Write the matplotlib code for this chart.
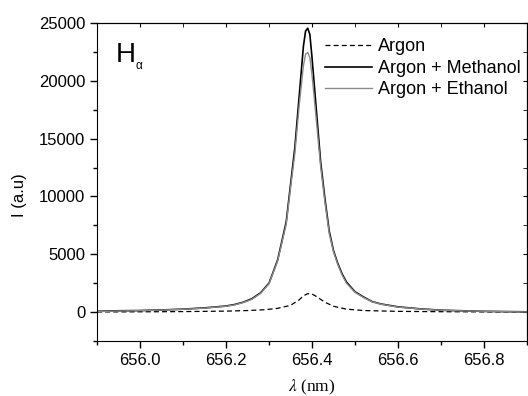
import matplotlib
matplotlib.use("Agg")
import matplotlib.pyplot as plt
from matplotlib.ticker import MultipleLocator

plt.rcParams['font.family'] = ['Liberation Sans', 'DejaVu Sans']
plt.rcParams['mathtext.fontset'] = 'stix'

# Methanol / ethanol spectra
wl = [655.90, 655.95, 656.00, 656.05, 656.10, 656.15, 656.20, 656.22, 656.24,
      656.26, 656.28, 656.30, 656.32, 656.34, 656.35, 656.36, 656.37, 656.38,
      656.385, 656.39, 656.395, 656.40, 656.41, 656.42, 656.43, 656.44, 656.45,
      656.46, 656.47, 656.48, 656.50, 656.52, 656.54, 656.56, 656.60, 656.65,
      656.70, 656.75, 656.80, 656.85, 656.90]
methanol = [60, 110, 130, 180, 250, 360, 520, 650, 850,
            1150, 1650, 2500, 4500, 7800, 11000, 14200, 18600, 23000,
            24300, 24550, 24000, 22000, 17500, 13000, 9800, 7000, 5300,
            4200, 3300, 2600, 1750, 1300, 900, 700, 450, 280,
            160, 110, 60, 40, 20]
ethanol = [40, 90, 120, 170, 240, 340, 500, 620, 820,
           1100, 1600, 2450, 4400, 7600, 10700, 13700, 17800, 21300,
           22300, 22450, 22000, 20500, 16600, 12600, 9500, 6800, 5200,
           4100, 3200, 2500, 1700, 1250, 880, 680, 430, 270,
           150, 100, 70, 30, 10]

# Pure argon spectrum
wl_ar = [655.90, 656.00, 656.10, 656.20, 656.25, 656.29, 656.32, 656.35,
         656.37, 656.38, 656.39, 656.40, 656.41, 656.43, 656.45, 656.48,
         656.52, 656.60, 656.70, 656.80, 656.90]
argon = [10, 20, 40, 80, 130, 200, 320, 580,
         1050, 1400, 1590, 1560, 1350, 850, 500, 250,
         130, 60, 30, 15, 10]

fig = plt.figure(figsize=(5.28, 3.96), dpi=100)
ax = fig.add_axes([0.1837, 0.139, 0.8145, 0.803])

ax.plot(wl_ar, argon, color='black', lw=0.9, ls=(0, (4, 2.5)), label='Argon')
ax.plot(wl, methanol, color='black', lw=1.2, label='Argon + Methanol')
ax.plot(wl, ethanol, color='#8a8a8a', lw=1.0, label='Argon + Ethanol')

ax.set_xlim(655.9, 656.9)
ax.set_ylim(-2500, 25000)
ax.xaxis.set_minor_locator(MultipleLocator(0.1))
ax.yaxis.set_major_locator(MultipleLocator(5000))
ax.yaxis.set_minor_locator(MultipleLocator(2500))
ax.set_xticks([656.0, 656.2, 656.4, 656.6, 656.8])
ax.set_xticklabels(['656.0', '656.2', '656.4', '656.6', '656.8'])

ax.tick_params(which='both', direction='out', labelsize=12, top=False, right=False)
ax.tick_params(which='major', length=5, width=1)
ax.tick_params(which='minor', length=3, width=1)
ax2 = ax.secondary_xaxis('top')
ax2.xaxis.set_major_locator(MultipleLocator(0.2))
ax2.xaxis.set_minor_locator(MultipleLocator(0.1))
ax2.tick_params(which='both', direction='in', labeltop=False, length=3)
ay2 = ax.secondary_yaxis('right')
ay2.yaxis.set_major_locator(MultipleLocator(5000))
ay2.yaxis.set_minor_locator(MultipleLocator(2500))
ay2.tick_params(which='both', direction='in', labelright=False, length=3)

ax.set_ylabel('I (a.u)', fontsize=12)
ax.yaxis.set_label_coords(-0.163, 0.46)
ax.set_xlabel(r'$\lambda$ (nm)', fontsize=12.5, family='Liberation Serif')
ax.xaxis.set_label_coords(0.5, -0.115)

ax.text(0.043, 0.94, 'H', transform=ax.transAxes, fontsize=20, va='top', ha='left')
ax.text(0.089, 0.882, 'α', transform=ax.transAxes, fontsize=8.5, va='top', ha='left')

ax.legend(loc='upper right', frameon=False, fontsize=13, handlelength=2.6,
          handletextpad=0.33, labelspacing=0.25, borderaxespad=0.45,
          bbox_to_anchor=(1.021, 1.0))

fig.savefig('out.png', dpi=100)
